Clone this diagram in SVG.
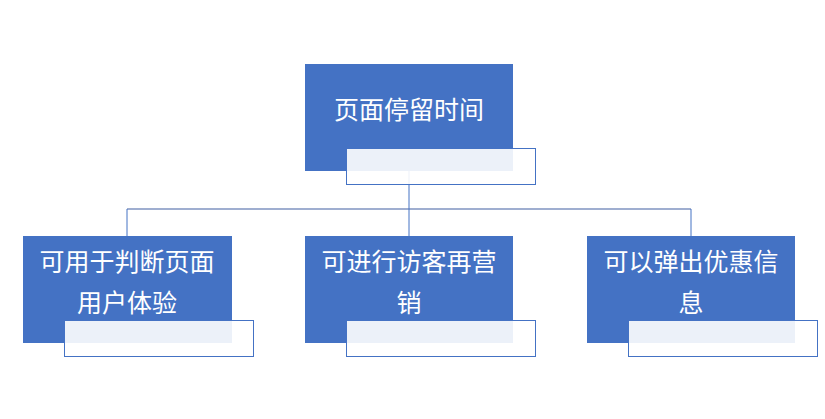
<svg xmlns="http://www.w3.org/2000/svg" width="825" height="419" viewBox="0 0 825 419">
<style>
.n{fill:#4472C4}
.o{fill:#fff;fill-opacity:0.9;stroke:#4472C4;stroke-width:1}
.t{fill:#fff;font-family:"Noto Sans CJK SC",sans-serif;font-size:25px;text-anchor:middle}
</style>
<rect width="825" height="419" fill="#fff"/>
<g id="connectors" fill="none">
<line x1="127" y1="209" x2="691" y2="209" stroke="#9FAED0" stroke-width="2"/>
<line x1="409" y1="160" x2="409" y2="236" stroke="#4472C4" stroke-width="1"/>
<line x1="127" y1="209" x2="127" y2="236" stroke="#4472C4" stroke-width="1"/>
<line x1="691" y1="209" x2="691" y2="236" stroke="#4472C4" stroke-width="1"/>
</g>
<g id="top"><rect class="n" x="305" y="64" width="208" height="107"/><rect class="o" x="346.5" y="148.5" width="189" height="36"/><text class="t" x="409" y="119">页面停留时间</text></g>
<g id="c1"><rect class="n" x="23" y="236" width="209" height="107"/><rect class="o" x="64.5" y="320.5" width="189" height="36"/><text class="t" x="127" y="271">可用于判断页面</text><text class="t" x="127" y="312">用户体验</text></g>
<g id="c2"><rect class="n" x="305" y="236" width="208" height="107"/><rect class="o" x="346.5" y="320.5" width="189" height="36"/><text class="t" x="409" y="271">可进行访客再营</text><text class="t" x="409" y="312">销</text></g>
<g id="c3"><rect class="n" x="587" y="236" width="208" height="107"/><rect class="o" x="628.5" y="320.5" width="189" height="36"/><text class="t" x="691" y="271">可以弹出优惠信</text><text class="t" x="691" y="312">息</text></g>
</svg>
